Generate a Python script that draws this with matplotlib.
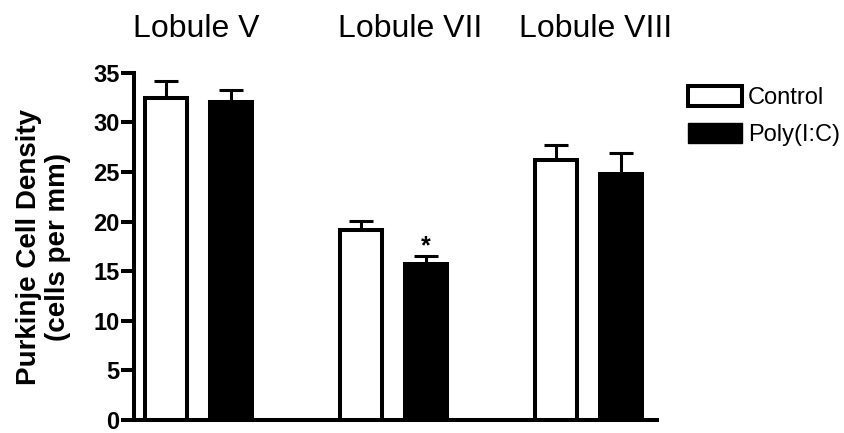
import numpy as np
import matplotlib
matplotlib.use("Agg")
import matplotlib.pyplot as plt
from matplotlib.patches import Patch
from matplotlib.transforms import blended_transform_factory

plt.rcParams["font.family"] = ["Liberation Sans", "DejaVu Sans"]

lobules = ["Lobule V", "Lobule VII", "Lobule VIII"]
groups = ["Control", "Poly(I:C)"]
control_mean = [32.4, 19.1, 26.2]
control_sem = [1.8, 1.0, 1.5]
polyic_mean = [32.0, 15.7, 24.8]
polyic_sem = [1.3, 0.8, 2.1]
significant = [False, True, False]  # Poly(I:C) vs control

W, H = 845, 433
fig = plt.figure(figsize=(W / 100, H / 100), dpi=100)
# axes box in pixels: left 134, right 657, bottom 420, top 72.7
ax = fig.add_axes([134 / W, 1 - 420 / H, (657 - 134) / W, (420 - 72.7) / H])

centers = np.arange(len(lobules)) * 3.0
offset = 0.5
width = 0.64
edge_lw = 2.9

x_ctrl = centers - offset
x_poly = centers + offset
ax.bar(x_ctrl, control_mean, width, color="white", edgecolor="black",
       linewidth=edge_lw, zorder=3)
ax.bar(x_poly, polyic_mean, width, color="black", edgecolor="black",
       linewidth=edge_lw, zorder=3)

err_kw = dict(fmt="none", ecolor="black", elinewidth=2.2, capsize=8.5,
              capthick=2.2, zorder=2)
ax.errorbar(x_ctrl, control_mean, yerr=[np.zeros(3), control_sem], **err_kw)
ax.errorbar(x_poly, polyic_mean, yerr=[np.zeros(3), polyic_sem], **err_kw)

for x, m, s, sig in zip(x_poly, polyic_mean, polyic_sem, significant):
    if sig:
        ax.text(x, m + s + 0.25, "*", ha="center", va="baseline",
                fontsize=18, fontweight="bold")

ax.set_xlim(-0.99, 7.05)
ax.set_ylim(0, 35)
ax.set_yticks(np.arange(0, 36, 5))
ax.set_xticks([])
ax.tick_params(axis="y", length=9.5, width=2.9, pad=1, labelsize=17)
for lab in ax.get_yticklabels():
    lab.set_fontweight("bold")

for side in ("top", "right"):
    ax.spines[side].set_visible(False)
for side in ("left", "bottom"):
    ax.spines[side].set_linewidth(2.9)

ax.set_ylabel("Purkinje Cell Density\n(cells per mm)", fontsize=20,
              fontweight="bold", va="center", linespacing=1.15)
ax.yaxis.set_label_coords(-0.173, 0.498)

# lobule names above each group
trans = blended_transform_factory(ax.transData, ax.transAxes)
title_shift = [-0.04, 0.25, 0.1]
for c, name, dx in zip(centers, lobules, title_shift):
    ax.text(c + dx, 1.126, name, transform=trans, ha="center", va="center",
            fontsize=23)

handles = [Patch(facecolor="white", edgecolor="black", linewidth=2.9),
           Patch(facecolor="black", edgecolor="black", linewidth=1.0)]
fig.legend(handles, groups, loc="upper left",
           bbox_to_anchor=(688 / W, 1 - 86 / H), frameon=False,
           fontsize=17, borderpad=0, borderaxespad=0, handlelength=2.3,
           handleheight=0.9, handletextpad=0.25, labelspacing=0.6)

fig.savefig("out.png", dpi=100)
